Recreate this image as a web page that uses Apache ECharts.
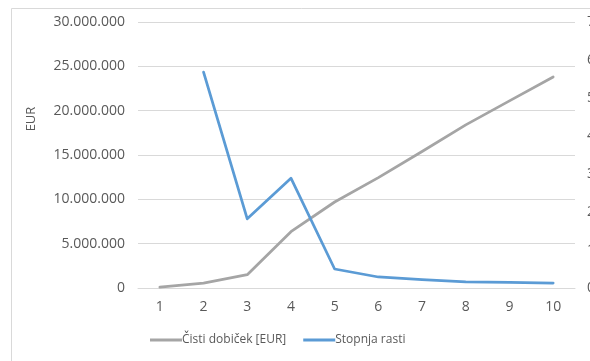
<!DOCTYPE html>
<html>
<head>
<meta charset="utf-8">
<script src="https://cdn.jsdelivr.net/npm/echarts@6/dist/echarts.min.js"></script>
<style>
  html, body { margin: 0; padding: 0; background: #ffffff; overflow: hidden; }
  #chart { width: 590px; height: 361px; }
</style>
</head>
<body>
<div id="chart"></div>
<script>
// Years of the projection
const years = ['1', '2', '3', '4', '5', '6', '7', '8', '9', '10'];
// Net profit per year, EUR
const netProfit = [100000, 550000, 1500000, 6350000, 9700000, 12450000, 15400000, 18400000, 21100000, 23800000];
// Growth rate per year (no value for the first year)
const growthRate = [null, 5.68, 1.82, 2.89, 0.50, 0.29, 0.22, 0.16, 0.15, 0.13];

const seriesNames = ['Čisti dobiček [EUR]', 'Stopnja rasti'];
const leftAxisName = 'EUR';

const textColor = '#595959';
const gridColor = '#d9d9d9';
const font = '"Open Sans", "Noto Sans", sans-serif';

function fmtThousands(v) {
  return String(Math.round(v)).replace(/\B(?=(\d{3})+(?!\d))/g, '.');
}

const chart = echarts.init(document.getElementById('chart'), null, { renderer: 'canvas', width: 590, height: 361 });

chart.setOption({
  backgroundColor: '#ffffff',
  animation: false,
  textStyle: { fontFamily: font },
  graphic: [
    {
      type: 'rect',
      shape: { x: 11.5, y: 8.5, width: 700, height: 500 },
      style: { fill: 'none', stroke: gridColor, lineWidth: 1 },
      silent: true,
      z: -10
    },
    {
      type: 'text',
      x: 31,
      y: 119,
      rotation: Math.PI / 2,
      style: {
        text: leftAxisName,
        fill: textColor,
        font: '13px ' + font,
        align: 'center',
        verticalAlign: 'middle'
      },
      silent: true
    }
  ],
  grid: {
    left: 138, right: 15, top: 22, bottom: 73,
    containLabel: false,
    outerBoundsMode: 'none'
  },
  legend: {
    bottom: 10,
    left: 145,
    itemWidth: 32,
    itemHeight: 3,
    itemGap: 17,
    icon: 'rect',
    textStyle: { color: textColor, fontSize: 12, fontFamily: font, padding: [0, 0, 0, -5] },
    data: seriesNames
  },
  xAxis: {
    type: 'category',
    data: years,
    boundaryGap: true,
    axisLine: { lineStyle: { color: gridColor, width: 1 } },
    axisTick: { show: false },
    axisLabel: { color: textColor, fontSize: 14, margin: 12, fontFamily: font }
  },
  yAxis: [
    {
      type: 'value',
      min: 0,
      max: 30000000,
      interval: 5000000,
      axisLine: { show: false },
      axisTick: { show: false },
      splitLine: { lineStyle: { color: gridColor, width: 1 } },
      axisLabel: {
        color: textColor,
        fontSize: 14,
        margin: 13,
        fontFamily: font,
        formatter: fmtThousands
      }
    },
    {
      type: 'value',
      min: 0,
      max: 7,
      interval: 1,
      position: 'right',
      axisLine: { show: false },
      axisTick: { show: false },
      splitLine: { show: false },
      axisLabel: { color: textColor, fontSize: 14, margin: 12, fontFamily: font }
    }
  ],
  series: [
    {
      name: seriesNames[0],
      type: 'line',
      yAxisIndex: 0,
      data: netProfit,
      showSymbol: false,
      symbol: 'none',
      lineStyle: { color: '#a5a5a5', width: 2.75, cap: 'round', join: 'round' },
      itemStyle: { color: '#a5a5a5' }
    },
    {
      name: seriesNames[1],
      type: 'line',
      yAxisIndex: 1,
      data: growthRate,
      connectNulls: false,
      showSymbol: false,
      symbol: 'none',
      lineStyle: { color: '#5b9bd5', width: 2.75, cap: 'round', join: 'round' },
      itemStyle: { color: '#5b9bd5' }
    }
  ]
});
</script>
</body>
</html>
